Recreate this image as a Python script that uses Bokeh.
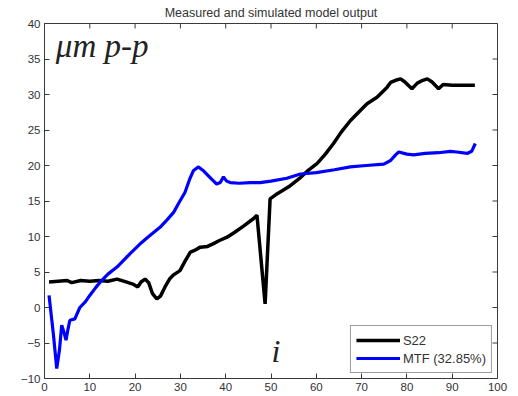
import math
from bokeh.plotting import figure
from bokeh.models import Label, Legend, LegendItem, SingleIntervalTicker
from bokeh.embed import file_html
from bokeh.resources import INLINE

title_text = "Measured and simulated model output"
s22_name = "S22"
mtf_name = "MTF (32.85%)"

x_ticks = [0, 10, 20, 30, 40, 50, 60, 70, 80, 90, 100]
y_ticks = [-10, -5, 0, 5, 10, 15, 20, 25, 30, 35, 40]

s22_x = [1, 3, 5, 6, 8, 10, 12, 14, 16, 18, 19.5, 20.6, 21.3, 22.2, 23, 23.8, 24.8, 25.6, 26.6,
         27.7, 28.5, 29.9, 31, 32.2, 33, 34.4, 36, 37.3, 38.5, 40.3, 42, 44, 46.1, 46.9, 48.7,
         49.8, 51.3, 53.9, 56.5, 58, 60.2, 62, 63.8, 65.5, 67.5, 69.5, 71.2, 73.4, 75.6, 76.4,
         77.5, 78.6, 79.5, 81.1, 82.3, 83.5, 84.5, 85.5, 87, 88, 90, 92, 95]
s22_y = [3.6, 3.7, 3.8, 3.5, 3.8, 3.7, 3.8, 3.7, 4.0, 3.6, 3.3, 2.9, 3.6, 4.0, 3.5, 2.0, 1.2, 1.6, 2.9,
         4.1, 4.6, 5.2, 6.5, 7.8, 8.0, 8.5, 8.6, 9.0, 9.4, 9.9, 10.6, 11.5, 12.5, 13.0, 0.5,
         15.3, 16.0, 17.0, 18.3, 19.2, 20.3, 21.6, 23.1, 24.7, 26.3, 27.6, 28.7, 29.6, 31.0, 31.7,
         32.0, 32.2, 31.8, 30.8, 31.6, 32.0, 32.2, 31.8, 30.8, 31.4, 31.3, 31.3, 31.3]

mtf_x = [1, 2, 2.7, 3.3, 3.8, 4.3, 4.75, 5.2, 5.6, 6.7, 7.8, 9, 10, 11.3, 12.6, 14, 16, 18.9, 21,
         23, 25.5, 27, 28.5, 29.9, 31, 32, 32.9, 34, 35, 35.8, 37, 38, 38.8, 39.5, 40.2, 41, 43,
         45.4, 47.6, 50, 53.5, 56.5, 60, 64, 67.5, 71, 74.9, 76.4, 77.5, 78.2, 80, 81.5, 84, 87,
         89.6, 91, 93.3, 94.3, 95.1]
mtf_y = [1.7, -4.0, -8.6, -6.0, -2.5, -3.5, -4.6, -3.0, -1.8, -1.6, 0.0, 0.8, 1.7, 2.8, 3.8, 4.7,
         5.7, 7.6, 8.9, 10.0, 11.3, 12.3, 13.4, 15.0, 16.2, 18.0, 19.3, 19.8, 19.3, 18.8, 18.0, 17.4,
         17.6, 18.4, 17.8, 17.6, 17.5, 17.6, 17.6, 17.8, 18.2, 18.8, 19.0, 19.4, 19.8, 20.0, 20.2,
         20.7, 21.5, 21.9, 21.6, 21.5, 21.7, 21.8, 22.0, 21.9, 21.7, 22.0, 23.1]

unit_text = "μm p-p"
index_text = "i"

AX = "#3a3a3a"
TXT = "#333333"

x0, x1 = x_ticks[0], x_ticks[-1]
y0, y1 = y_ticks[0], y_ticks[-1]

p = figure(width=518, height=396, x_range=(x0, x1), y_range=(y0, y1),
           output_backend="svg", toolbar_location=None,
           min_border_left=44, min_border_right=21, min_border_top=23, min_border_bottom=18)

p.title.text = title_text
p.title.align = "center"
p.title.vertical_align = "top"
p.title.text_font = "Liberation Sans"
p.title.text_font_size = "12.5px"
p.title.text_font_style = "normal"
p.title.text_color = TXT
p.title.standoff = 4
p.title.offset = 0

p.grid.visible = False
p.outline_line_color = AX
p.outline_line_width = 1

for ax in [p.xaxis[0], p.yaxis[0]]:
    ax.major_tick_in = 5
    ax.major_tick_out = 0
    ax.minor_tick_in = 0
    ax.minor_tick_out = 0
    ax.axis_line_color = AX
    ax.major_tick_line_color = AX
    ax.major_label_text_font = "Liberation Sans"
    ax.major_label_text_font_size = "11.5px"
    ax.major_label_text_color = TXT
    ax.major_label_standoff = 4

p.xaxis[0].ticker = SingleIntervalTicker(interval=10)
p.yaxis[0].ticker = SingleIntervalTicker(interval=5)

# mirrored ticks on top and right edges (MATLAB box style)
p.ray(x=x_ticks, y=[y1] * len(x_ticks), length=5, length_units="screen",
      angle=-math.pi / 2, line_color=AX, line_width=1)
p.ray(x=[x1] * len(y_ticks), y=y_ticks, length=5, length_units="screen",
      angle=math.pi, line_color=AX, line_width=1)

r1 = p.line(s22_x, s22_y, line_color="black", line_width=3.5)
r2 = p.line(mtf_x, mtf_y, line_color="#0000ff", line_width=3.2)

legend = Legend(items=[LegendItem(label=s22_name, renderers=[r1]),
                       LegendItem(label=mtf_name, renderers=[r2])],
                location="bottom_right")
legend.margin = 5
legend.padding = 5
legend.spacing = 0
legend.glyph_width = 44
legend.glyph_height = 18
legend.label_standoff = 3
legend.label_text_font = "Liberation Sans"
legend.label_text_font_size = "13px"
legend.label_text_color = TXT
legend.border_line_color = AX
legend.border_line_width = 1
legend.background_fill_alpha = 1
p.add_layout(legend, "center")

p.add_layout(Label(x=2.5, y=36.8, text=unit_text, text_font="Liberation Serif",
                   text_font_style="italic", text_font_size="33px", text_color="#222222",
                   text_baseline="alphabetic"))
p.add_layout(Label(x=50.1, y=-6.1, text=index_text, text_font="Liberation Serif",
                   text_font_style="italic", text_font_size="32px", text_color="#222222",
                   text_baseline="alphabetic"))

open("out.html", "w").write(file_html(p, INLINE))
